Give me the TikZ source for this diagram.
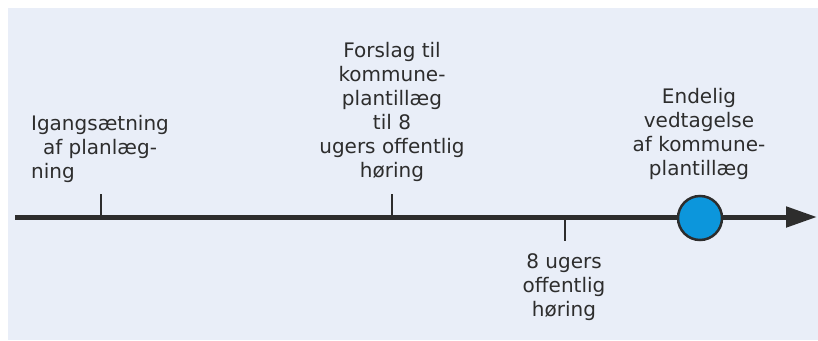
\documentclass[tikz,border=0pt]{standalone}
\usepackage{fontspec}
\usepackage{calc}
\setmainfont{DejaVu Sans}
\usetikzlibrary{arrows.meta}
\definecolor{bgc}{RGB}{233,238,248}
\definecolor{ink}{RGB}{45,45,45}
\definecolor{dotblue}{RGB}{12,150,220}
\tikzset{
  lbl/.style={inner sep=0pt, text=ink, align=center, font=\fontsize{20pt}{24pt}\selectfont},
  tick/.style={draw=ink, line width=1.6pt},
  axis/.style={draw=ink, line width=5pt, -{Triangle[length=31pt,width=20pt]}}
}
\begin{document}
\begin{tikzpicture}[x=1pt,y=-1pt]
\useasboundingbox (0,0) rectangle (818,340);
\fill[bgc] (8,8) rectangle (818,340);
% axis
\coordinate (start) at (15,217);
\coordinate (end) at (817,217);
\draw[axis] (start) -- (end);
% ticks
\coordinate (t1a) at (101,194); \coordinate (t1b) at (101,217);
\coordinate (t2a) at (392,194); \coordinate (t2b) at (392,217);
\coordinate (t3a) at (565,217); \coordinate (t3b) at (565,241);
\draw[tick] (t1a) -- (t1b);
\draw[tick] (t2a) -- (t2b);
\draw[tick] (t3a) -- (t3b);
% milestone dot
\node[circle, draw=ink, line width=2.5pt, fill=dotblue, minimum size=44pt, inner sep=0pt] (dot) at (700,218) {};
% labels
\node[lbl, anchor=north] (l1) at (100,115) {Igangsætning\\af planlæg-\\\makebox[\widthof{Igangsætning}][l]{ning}};
\node[lbl, anchor=north] (l2) at (392,42) {Forslag til\\kommune-\\plantillæg\\til 8\\ugers offentlig\\høring};
\node[lbl, anchor=north] (l3) at (699,88) {Endelig\\vedtagelse\\af kommune-\\plantillæg};
\node[lbl, anchor=north] (l4) at (564,253) {8 ugers\\offentlig\\høring};
\end{tikzpicture}
\end{document}
